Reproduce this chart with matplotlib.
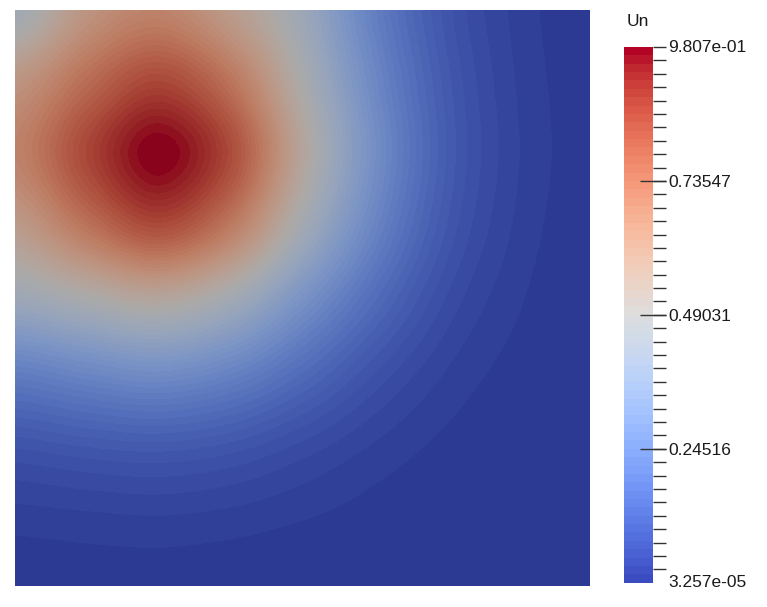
import numpy as np
import matplotlib
matplotlib.use("Agg")
import matplotlib.pyplot as plt
from matplotlib.colors import ListedColormap, Normalize
from matplotlib.cm import ScalarMappable

plt.rcParams['font.family'] = ['Liberation Sans', 'DejaVu Sans']

# node coordinates of the sampled grid (unit square)
x_nodes = [0.0, 0.125, 0.25, 0.375, 0.5, 0.625, 0.75, 0.875, 1.0]
y_nodes = [1.0, 0.875, 0.75, 0.625, 0.5, 0.375, 0.25, 0.125, 0.0]

# Un at the nodes, one row per y (top row first)
un_y100 = [0.44, 0.62, 0.69, 0.59, 0.43, 0.22, 0.085, 0.025, 0.005]
un_y088 = [0.62, 0.76, 0.86, 0.74, 0.49, 0.255, 0.100, 0.029, 0.007]
un_y075 = [0.69, 0.86, 0.9807, 0.85, 0.54, 0.281, 0.108, 0.032, 0.007]
un_y063 = [0.59, 0.74, 0.85, 0.72, 0.46, 0.241, 0.093, 0.027, 0.006]
un_y050 = [0.43, 0.49, 0.54, 0.46, 0.30, 0.159, 0.061, 0.018, 0.004]
un_y038 = [0.22, 0.255, 0.281, 0.241, 0.159, 0.080, 0.031, 0.009, 0.002]
un_y025 = [0.085, 0.100, 0.108, 0.093, 0.061, 0.031, 0.012, 0.0035, 0.0008]
un_y013 = [0.025, 0.029, 0.032, 0.027, 0.018, 0.009, 0.0035, 0.001, 0.0002]
un_y000 = [0.005, 0.007, 0.007, 0.006, 0.004, 0.002, 0.0008, 0.0002, 3.257e-05]

un_min = 3.257e-05
un_max = 0.9807
bar_ticks = [0.24516, 0.49031, 0.73547]
bar_labels = ['0.24516', '0.49031', '0.73547']
minor_step = 0.024516

field = np.array([un_y100, un_y088, un_y075, un_y063, un_y050,
                  un_y038, un_y025, un_y013, un_y000])

# paraview style cool-to-warm, 64 discrete colours
n_colors = 64
base = plt.get_cmap('coolwarm', n_colors)
bar_colors = base(np.arange(n_colors))
shade_colors = bar_colors.copy()
shade_colors[:, :3] *= 0.77   # lit surface looks darker than the legend
bar_cmap = ListedColormap(bar_colors)
field_cmap = ListedColormap(shade_colors)
norm = Normalize(vmin=un_min, vmax=un_max)

W, H = 767, 607
fig = plt.figure(figsize=(W / 100, H / 100), dpi=100)

# main render of the square domain
ax = fig.add_axes([15 / W, (H - 586) / H, 575 / W, 576 / H])
dx = (x_nodes[1] - x_nodes[0]) / 2
ax.imshow(field, cmap=field_cmap, norm=norm, interpolation='catrom',
          extent=(x_nodes[0] - dx, x_nodes[-1] + dx, y_nodes[-1] - dx, y_nodes[0] + dx),
          origin='upper', aspect='auto')
ax.set_xlim(0, 1)
ax.set_ylim(0, 1)
ax.axis('off')

# scalar bar
cax = fig.add_axes([624 / W, (H - 582.7) / H, 28.7 / W, 535.7 / H])
sm = ScalarMappable(norm=norm, cmap=bar_cmap)
cb = fig.colorbar(sm, cax=cax)
cb.outline.set_visible(False)
cb.set_ticks(bar_ticks, labels=bar_labels)
cb.set_ticks([k * minor_step for k in range(1, 41)], minor=True)
cax.yaxis.remove_overlapping_locs = False
cax.tick_params(which='major', direction='inout', length=18.5, width=1.0,
                color='#333333', labelsize=12.5, labelcolor='#1a1a1a', pad=1.8)
cax.tick_params(which='minor', direction='out', length=9.4, width=1.0,
                color='#333333')

fig.text(668 / W, 1 - 47 / H, '9.807e-01', fontsize=12.5, color='#1a1a1a',
         ha='left', va='center')
fig.text(668 / W, 1 - 582.5 / H, '3.257e-05', fontsize=12.5, color='#1a1a1a',
         ha='left', va='center')
fig.text(627 / W, 1 - 21.5 / H, 'Un', fontsize=12.5, color='#1a1a1a',
         ha='left', va='center')

fig.savefig('out.png', dpi=100)
